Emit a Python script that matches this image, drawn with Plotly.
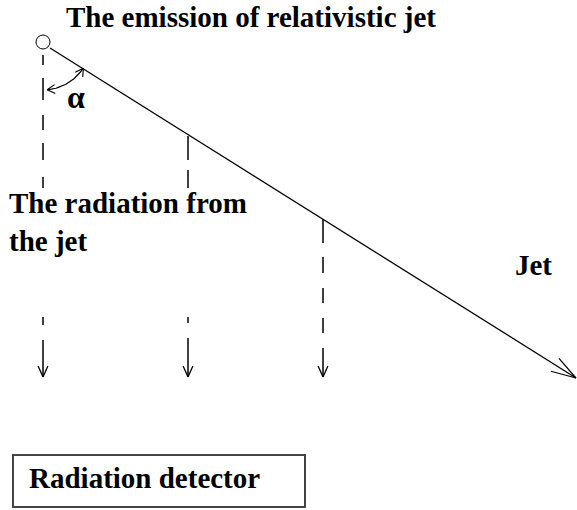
import numpy as np
import plotly.graph_objects as go

W, H = 577, 510
FONT = "Liberation Serif"
INK = "black"

# geometry of the diagram (pixel coordinates, y downward)
source_xy = (43, 42)
source_r = 7
jet_start = (50, 48)
jet_tip = (576, 378)
ray_x = [43, 188, 323]
ray_dashes = [
    [(55, 65), (78, 100), (115, 130), (143, 160), (177, 188), (317, 325)],
    [(136, 160), (170, 188), (317, 323)],
    [(219, 243), (257, 273), (288, 303), (318, 333)],
]
ray_shaft_top = [340, 338, 348]
ray_tip_y = 377
arc_radius = 48
arc_deg = (5, 57)

labels = {
    "title": "The emission of relativistic jet",
    "radiation": "The radiation from<br>the jet",
    "jet": "Jet",
    "alpha": "α",
    "detector": "Radiation detector",
}

fig = go.Figure()

def add_line(xs, ys, width=1.4, dash=None):
    fig.add_trace(go.Scatter(x=xs, y=ys, mode="lines", hoverinfo="skip",
                             line=dict(color=INK, width=width, dash=dash),
                             showlegend=False))

def head(tip, direction, length=12, spread=22):
    d = np.array(direction, float)
    d /= np.linalg.norm(d)
    ang = np.arctan2(d[1], d[0])
    xs, ys = [], []
    for s in (-1, 1):
        a = ang + np.pi + s * np.radians(spread)
        xs += [tip[0] + length * np.cos(a), tip[0], None]
        ys += [tip[1] + length * np.sin(a), tip[1], None]
    return xs, ys

# jet line + head
add_line([jet_start[0], jet_tip[0]], [jet_start[1], jet_tip[1]], width=1.3)
hx, hy = head(jet_tip, (jet_tip[0] - jet_start[0], jet_tip[1] - jet_start[1]), length=26, spread=17)
add_line(hx, hy, width=1.2)

# radiation rays
for x, dashes, top in zip(ray_x, ray_dashes, ray_shaft_top):
    xs, ys = [], []
    for a, b in dashes:
        xs += [x, x, None]
        ys += [a, b, None]
    xs += [x, x, None]
    ys += [top, ray_tip_y, None]
    add_line(xs, ys, width=1.5)
    hx, hy = head((x, ray_tip_y), (0, 1), length=12, spread=24)
    add_line(hx, hy, width=1.3)

# angle arc with arrowheads
th = np.radians(np.linspace(arc_deg[0], arc_deg[1], 40))
ax_ = source_xy[0] + arc_radius * np.sin(th)
ay_ = source_xy[1] + arc_radius * np.cos(th)
add_line(list(ax_), list(ay_), width=1.2)
t0, t1 = th[0], th[-1]
hx, hy = head((ax_[0], ay_[0]), (-np.cos(t0), np.sin(t0)), length=9, spread=30)
add_line(hx, hy, width=1.1)
hx, hy = head((ax_[-1], ay_[-1]), (np.cos(t1), -np.sin(t1)), length=9, spread=30)
add_line(hx, hy, width=1.1)

# source circle
fig.add_shape(type="circle", x0=source_xy[0] - source_r, x1=source_xy[0] + source_r,
              y0=source_xy[1] - source_r, y1=source_xy[1] + source_r,
              line=dict(color=INK, width=1))

# detector box
fig.add_shape(type="rect", x0=13, x1=305, y0=455, y1=507,
              line=dict(color="#444", width=2))

def text(s, x, y, size=29, xanchor="left", yanchor="middle", align="left"):
    fig.add_annotation(x=x, y=y, text=s, showarrow=False, xanchor=xanchor,
                       yanchor=yanchor, align=align,
                       font=dict(family=FONT, size=size, color=INK, weight="bold"))

text(labels["title"], 64, 17)
text(labels["radiation"], 7, 222)
text(labels["jet"], 533, 265, xanchor="center")
text(labels["alpha"], 76, 97, size=32, xanchor="center")
text(labels["detector"], 27, 478)

fig.update_layout(width=W, height=H, margin=dict(l=0, r=0, t=0, b=0),
                  paper_bgcolor="white", plot_bgcolor="white",
                  xaxis=dict(range=[0, W], visible=False, fixedrange=True),
                  yaxis=dict(range=[H, 0], visible=False, fixedrange=True))

fig.write_html("out.html", config={"displayModeBar": False},
               post_script="document.body.style.margin='0';document.body.style.overflow='hidden';")
